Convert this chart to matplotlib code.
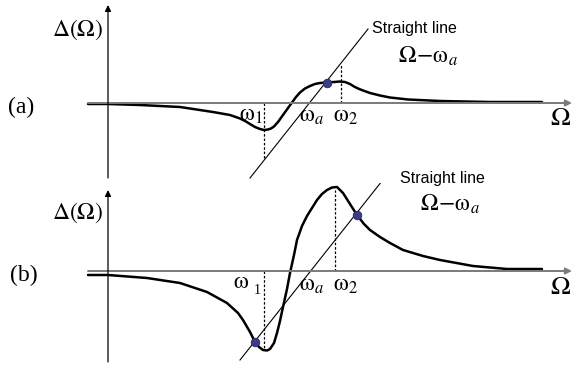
import matplotlib
matplotlib.use("Agg")
import matplotlib.pyplot as plt

plt.rcParams["mathtext.fontset"] = "stix"

# Panel (a): curve, (Omega, Delta) about the axes origin
omega_a = [-20, 0, 32, 72, 105, 122, 132, 138, 142, 147, 152, 156, 160, 163, 166,
           170, 175, 180, 184, 188, 192, 197, 202, 207, 212, 219, 226, 232, 237,
           242, 246, 250, 255, 262, 272, 282, 300, 332, 382, 434]
delta_a = [-1, -1, -2, -4, -9, -12, -15.5, -18.5, -21, -24, -26, -27, -26.5,
           -25.5, -23.5, -19, -12, -5, 0.5, 6, 10.5, 14.5, 17, 19, 20, 20.5, 21,
           21.5, 21, 19, 16.5, 14.5, 12.5, 10, 7.5, 5.5, 3.5, 2, 1, 1]
line_a = ([142, 260], [-75, 74])      # straight line Omega - omega_a
cross_a = ([219], [20.5])             # intersection point
dash_a = {"w1": (156, -55), "w2": (233, 38)}

# Panel (b)
omega_b = [-20, 0, 39, 72, 99, 119, 130, 135, 142, 147, 151, 155, 159, 162, 166,
           169, 172, 175, 179, 182, 186, 189, 194, 199, 204, 209, 214, 219, 224,
           229, 235, 242, 249, 256, 262, 272, 282, 295, 315, 332, 365, 399, 434]
delta_b = [-4, -4, -7, -12, -21, -32, -42, -49, -61, -71, -76, -79, -79.5,
           -78, -72, -62, -50, -36, -18, -2, 16, 31, 45, 55, 63, 71, 77, 81,
           83.5, 84, 78, 67, 56, 47, 41, 34, 28, 21, 15, 11, 5, 2, 2]
line_b = ([132, 278], [-89, 95])
cross_b = ([147, 249], [-71, 56])
dash_b = {"w1": (156, -79), "w2": (227, 81)}

y_label = r"$\Delta(\Omega)$"
x_label = r"$\Omega$"
line_text = "Straight line"
line_formula = r"$\Omega\!-\!\mathrm{\omega}_a$"

fig = plt.figure(figsize=(5.73, 3.66), dpi=100)
ax_a = fig.add_axes([0, 0.5, 1, 0.5])
ax_b = fig.add_axes([0, 0, 1, 0.5])


def draw_panel(ax, omega, delta, line, cross, dash, ylim, vaxis):
    ax.set_xlim(-108, 465)
    ax.set_ylim(*ylim)
    ax.axis("off")
    # axes with arrows
    ax.annotate("", xy=(464, 0), xytext=(-20, 0),
                arrowprops=dict(arrowstyle="-|>", color="#7a7a7a", lw=1.4,
                                mutation_scale=9, shrinkA=0, shrinkB=0))
    ax.annotate("", xy=(0, vaxis[1]), xytext=(0, vaxis[0]),
                arrowprops=dict(arrowstyle="-|>", color="black", lw=0.9,
                                mutation_scale=9, shrinkA=0, shrinkB=0))
    # dashed markers for omega_1, omega_2
    for w, d in dash.values():
        ax.plot([w, w], [0, d], color="black", lw=0.9, ls=(0, (2, 1.5)))
    ax.plot(line[0], line[1], color="black", lw=0.8)
    ax.plot(omega, delta, color="black", lw=1.8, solid_capstyle="round",
            solid_joinstyle="round")
    ax.scatter(cross[0], cross[1], s=38, color="#3c3c84", edgecolor="#2a2a5a",
               linewidth=0.6, zorder=5)


draw_panel(ax_a, omega_a, delta_a, line_a, cross_a, dash_a, (-80, 103), (-75, 98))
draw_panel(ax_b, omega_b, delta_b, line_b, cross_b, dash_b, (-95, 88), (-91, 81))

serif = "Liberation Serif"
# panel (a) texts
ax_a.text(-30, 73, y_label, fontsize=17, ha="center", va="center")
ax_a.text(-87, -4, "(a)", fontsize=17, family=serif, ha="center", va="center")
ax_a.text(452, -15, x_label, fontsize=19, ha="center", va="center")
ax_a.text(306, 75, line_text, fontsize=11.5, family="Liberation Sans",
          ha="center", va="center")
ax_a.text(320, 47, line_formula, fontsize=17, ha="center", va="center")
ax_a.text(143, -11, r"$\mathrm{\omega}_1$", fontsize=17, ha="center", va="center")
ax_a.text(204, -12, r"$\mathrm{\omega}_a$", fontsize=17, ha="center", va="center")
ax_a.text(237, -12, r"$\mathrm{\omega}_2$", fontsize=17, ha="center", va="center")

# panel (b) texts
ax_b.text(-30, 58, y_label, fontsize=17, ha="center", va="center")
ax_b.text(-84, -4, "(b)", fontsize=17, family=serif, ha="center", va="center")
ax_b.text(452, -16, x_label, fontsize=19, ha="center", va="center")
ax_b.text(334, 93, line_text, fontsize=11.5, family="Liberation Sans",
          ha="center", va="center")
ax_b.text(342, 67, line_formula, fontsize=17, ha="center", va="center")
ax_b.text(133, -10, r"$\mathrm{\omega}$", fontsize=17, ha="center", va="center")
ax_b.text(149, -19, "1", fontsize=10, family=serif, ha="center", va="center")
ax_b.text(204, -13, r"$\mathrm{\omega}_a$", fontsize=17, ha="center", va="center")
ax_b.text(237, -13, r"$\mathrm{\omega}_2$", fontsize=17, ha="center", va="center")

fig.savefig("out.png", dpi=100)
